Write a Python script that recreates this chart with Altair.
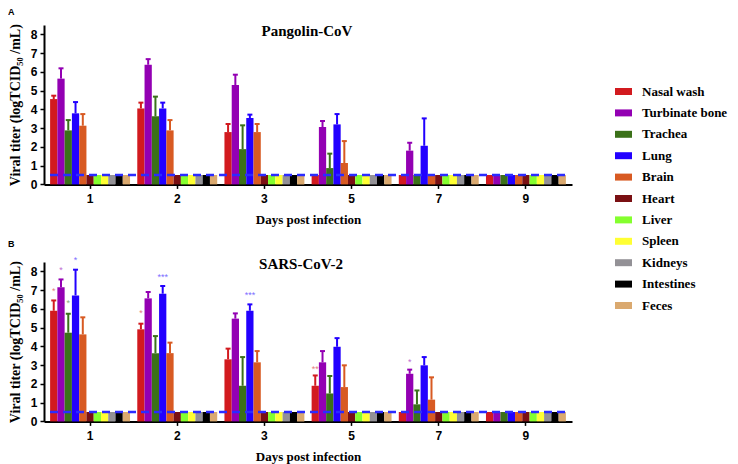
import altair as alt
import pandas as pd

days = ["1", "2", "3", "5", "7", "9"]
tissues = ["Nasal wash", "Turbinate bone", "Trachea", "Lung", "Brain", "Heart",
           "Liver", "Spleen", "Kidneys", "Intestines", "Feces"]
colors = ["#d21a1f", "#9300b3", "#3b7119", "#2200ff", "#d85a22", "#7a1013",
          "#84ff2e", "#ffff33", "#939196", "#000000", "#daa96f"]
lod = 0.5

# Pangolin-CoV: mean titer per tissue (order as in `tissues`), one list per day
pang_d1 = [4.55, 5.64, 2.88, 3.79, 3.13, 0.5, 0.5, 0.5, 0.5, 0.5, 0.5]
pang_d2 = [4.05, 6.38, 3.63, 4.05, 2.88, 0.5, 0.5, 0.5, 0.5, 0.5, 0.5]
pang_d3 = [2.79, 5.30, 1.88, 3.54, 2.79, 0.5, 0.5, 0.5, 0.5, 0.5, 0.5]
pang_d5 = [0.5, 3.06, 0.87, 3.20, 1.14, 0.5, 0.5, 0.5, 0.5, 0.5, 0.5]
pang_d7 = [0.5, 1.80, 0.5, 2.06, 0.5, 0.5, 0.5, 0.5, 0.5, 0.5, 0.5]
pang_d9 = [0.5, 0.5, 0.5, 0.5, 0.5, 0.5, 0.5, 0.5, 0.5, 0.5, 0.5]
# upper end of error bars (None = no error bar)
pang_e1 = [4.73, 6.19, 3.43, 4.39, 3.75, None, None, None, None, None, None]
pang_e2 = [4.36, 6.68, 4.68, 4.36, 3.43, None, None, None, None, None, None]
pang_e3 = [3.22, 5.85, 3.15, 3.72, 3.22, None, None, None, None, None, None]
pang_e5 = [None, 3.38, 1.64, 3.75, 2.31, None, None, None, None, None, None]
pang_e7 = [None, 2.22, None, 3.52, None, None, None, None, None, None, None]
pang_e9 = [None] * 11

# SARS-CoV-2
sars_d1 = [5.90, 7.15, 4.73, 6.72, 4.64, 0.5, 0.5, 0.5, 0.5, 0.5, 0.5]
sars_d2 = [4.91, 6.56, 3.64, 6.81, 3.64, 0.5, 0.5, 0.5, 0.5, 0.5, 0.5]
sars_d3 = [3.31, 5.48, 1.90, 5.90, 3.15, 0.5, 0.5, 0.5, 0.5, 0.5, 0.5]
sars_d5 = [1.90, 3.15, 1.49, 3.98, 1.83, 0.5, 0.5, 0.5, 0.5, 0.5, 0.5]
sars_d7 = [0.5, 2.54, 0.91, 2.99, 1.16, 0.5, 0.5, 0.5, 0.5, 0.5, 0.5]
sars_d9 = [0.5, 0.5, 0.5, 0.5, 0.5, 0.5, 0.5, 0.5, 0.5, 0.5, 0.5]
sars_e1 = [6.45, 7.57, 5.74, 8.09, 5.55, None, None, None, None, None, None]
sars_e2 = [5.21, 6.90, 4.55, 7.22, 4.20, None, None, None, None, None, None]
sars_e3 = [3.88, 5.76, 3.43, 6.24, 3.75, None, None, None, None, None, None]
sars_e5 = [2.45, 3.75, 2.42, 4.44, 2.99, None, None, None, None, None, None]
sars_e7 = [None, 2.76, 1.65, 3.43, 2.35, None, None, None, None, None, None]
sars_e9 = [None] * 11

# significance markers (SARS-CoV-2 panel)
star_day = ["1", "1", "1", "1", "2", "2", "3", "5", "7"]
star_tissue = ["Nasal wash", "Turbinate bone", "Trachea", "Lung", "Nasal wash",
               "Lung", "Lung", "Nasal wash", "Turbinate bone"]
star_text = ["*", "*", "*", "*", "*", "***", "***", "**", "*"]
star_y = [7.08, 8.18, 6.40, 8.73, 5.87, 7.82, 6.86, 2.90, 3.25]


def build(means, errs):
    rows, erows = [], []
    for d, m, e in zip(days, means, errs):
        for t, v, ev in zip(tissues, m, e):
            rows.append({"day": d, "tissue": t, "value": v})
            if ev is not None:
                erows.append({"day": d, "tissue": t, "value": v, "err": ev})
    return pd.DataFrame(rows), pd.DataFrame(erows)


pang_df, pang_err = build([pang_d1, pang_d2, pang_d3, pang_d5, pang_d7, pang_d9],
                          [pang_e1, pang_e2, pang_e3, pang_e5, pang_e7, pang_e9])
sars_df, sars_err = build([sars_d1, sars_d2, sars_d3, sars_d5, sars_d7, sars_d9],
                          [sars_e1, sars_e2, sars_e3, sars_e5, sars_e7, sars_e9])
stars_df = pd.DataFrame({"day": star_day, "tissue": star_tissue,
                         "text": star_text, "y": star_y})

serif = "Liberation Serif"
sans = "Liberation Sans"
ytitle = "Viral titer (logTCID\u2085\u2080 /mL)"

xenc = alt.X("day:N", sort=days,
             scale=alt.Scale(domain=days, paddingInner=0.083, paddingOuter=0.07),
             axis=alt.Axis(title="Days post infection", labelAngle=0))
xoff = alt.XOffset("tissue:N", sort=tissues,
                   scale=alt.Scale(domain=tissues, paddingInner=0, paddingOuter=0))
col = alt.Color("tissue:N", sort=tissues,
                scale=alt.Scale(domain=tissues, range=colors),
                legend=alt.Legend(title=None))


def yenc(field):
    return alt.Y(field, scale=alt.Scale(domain=[0, 8.5], nice=False),
                 axis=alt.Axis(title=ytitle, values=list(range(9))))


def panel(df, edf, title, label, tx, ty, ly, stars=None):
    bars = alt.Chart(df).mark_bar().encode(x=xenc, xOffset=xoff, y=yenc("value:Q"), color=col)
    err = alt.Chart(edf).mark_rule(strokeWidth=2).encode(
        x=xenc, xOffset=xoff, y=yenc("value:Q"), y2="err:Q", color=col)
    caps = alt.Chart(edf).mark_tick(thickness=2, size=5, opacity=1).encode(
        x=xenc, xOffset=xoff, y=yenc("err:Q"), color=col)
    limit = alt.Chart(pd.DataFrame({"v": [lod]})).mark_rule(
        strokeDash=[8, 5], strokeWidth=2.5, color="#2b2bff").encode(
        y=yenc("v:Q"), x=alt.value(6), x2=alt.value(521))
    ttl = alt.Chart(pd.DataFrame({"t": [title]})).mark_text(
        font=serif, fontWeight="bold", fontSize=15, color="black", baseline="middle").encode(
        text="t:N", x=alt.value(tx), y=alt.value(ty))
    lab = alt.Chart(pd.DataFrame({"t": [label]})).mark_text(
        font=sans, fontWeight="bold", fontSize=9, color="black", align="left",
        baseline="middle").encode(text="t:N", x=alt.value(-36), y=alt.value(ly))
    layers = [bars, err, caps, limit]
    if stars is not None:
        st = alt.Chart(stars).mark_text(font=sans, fontSize=9, opacity=0.6,
                                        baseline="middle", dy=2).encode(
            x=xenc, xOffset=xoff, y=yenc("y:Q"), text="text:N", color=col)
        layers.append(st)
    layers += [ttl, lab]
    return alt.layer(*layers).properties(width=528, height=159.4)


pA = panel(pang_df, pang_err, "Pangolin-CoV", "A", 263, 6, -13)
pB = panel(sars_df, sars_err, "SARS-CoV-2", "B", 257, 2, -18, stars_df)

chart = alt.vconcat(pA, pB, spacing=13).properties(
    padding={"left": 0, "top": 0, "right": 0, "bottom": 0}
).configure_view(stroke=None).configure_axis(
    grid=False, domainColor="black", domainWidth=2, tickColor="black", tickWidth=1.5,
    tickSize=4, labelFont=sans, labelFontWeight="bold", labelFontSize=12,
    labelColor="black", titleFont=serif, titleFontWeight="bold", titleFontSize=13,
    titleColor="black"
).configure_axisX(labelPadding=5, titlePadding=9).configure_axisY(
    labelPadding=3, titlePadding=8, titleFontSize=14
).configure_legend(
    orient="none", legendX=571, legendY=58, padding=0,
    symbolType="M-1,-0.41H1V0.41H-1Z", symbolSize=289, symbolStrokeWidth=0,
    symbolOpacity=1, labelFont=serif, labelFontWeight="bold", labelFontSize=13,
    labelColor="black", labelOffset=10, rowPadding=5.4, labelLimit=200
)

chart.save("out.html", embed_options={"renderer": "svg", "actions": False})
